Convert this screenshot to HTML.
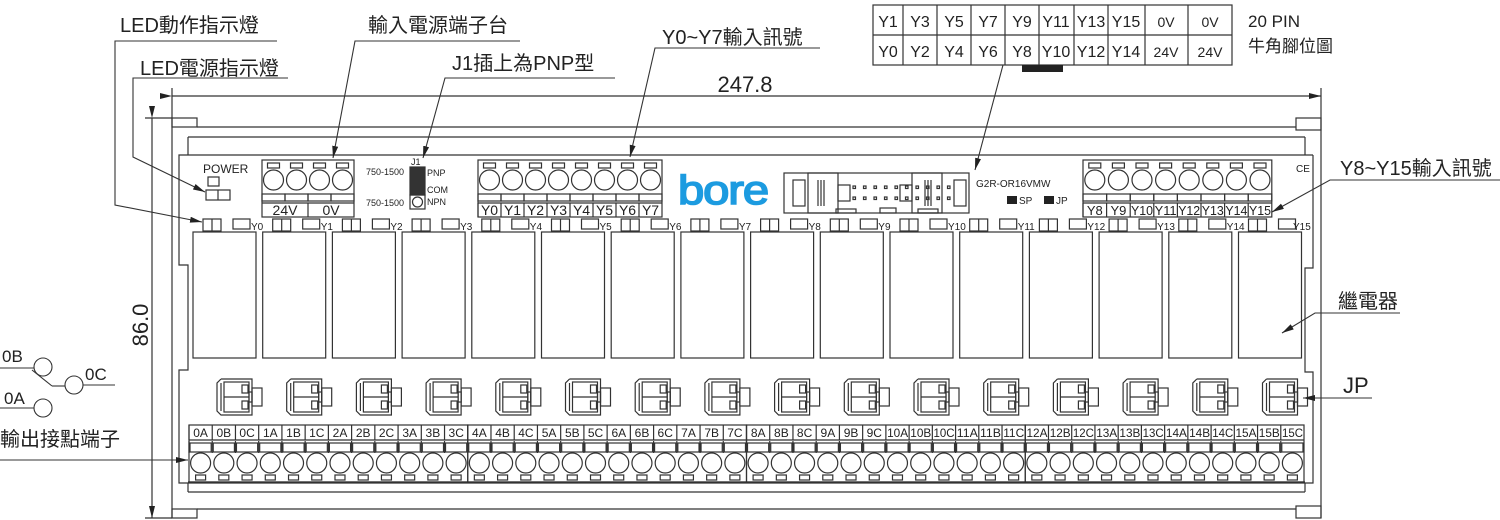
<!DOCTYPE html>
<html><head><meta charset="utf-8"><style>
html,body{margin:0;padding:0;background:#fff;}
svg{display:block;font-family:"Liberation Sans","Noto Sans CJK TC",sans-serif;}
</style></head><body>
<svg id="s" width="1500" height="520" viewBox="0 0 1500 520" xmlns="http://www.w3.org/2000/svg">
<defs>
<marker id="ar" viewBox="0 0 12 6" refX="12" refY="3" markerWidth="12" markerHeight="6" orient="auto" markerUnits="userSpaceOnUse"><path d="M0,0 L12,3 L0,6 z" fill="#222"/></marker>
</defs>
<g id="shapes" fill="none" stroke="#333" stroke-width="1.2"></g>

<!-- dimensions -->
<g stroke="#333" stroke-width="1.2" fill="none">
<line x1="172" y1="88" x2="172" y2="118"/><line x1="1321" y1="88" x2="1321" y2="118"/>
<line x1="172" y1="96" x2="1321" y2="96" marker-start="url(#ar)" marker-end="url(#ar)"/>
<line x1="145" y1="118" x2="172" y2="118"/><line x1="145" y1="518" x2="172" y2="518"/>
<line x1="152" y1="118" x2="152" y2="518" marker-start="url(#ar)" marker-end="url(#ar)"/>
</g>
<text x="745" y="92" font-size="22" fill="#222" text-anchor="middle">247.8</text>
<text transform="translate(148,325) rotate(-90)" font-size="22" fill="#222" text-anchor="middle">86.0</text>

<!-- callouts -->
<g stroke="#333" stroke-width="1.1" fill="none">
<polyline points="277,41 115,41 115,205 202,222" marker-end="url(#ar)"/>
<polyline points="288,78 133,78 133,157 205,192" marker-end="url(#ar)"/>
<polyline points="520,41 355,41 333,158" marker-end="url(#ar)"/>
<polyline points="615,78 445,78 423,158" marker-end="url(#ar)"/>
<polyline points="820,48 655,48 630,157" marker-end="url(#ar)"/>
<polyline points="1003,65 975,170" marker-end="url(#ar)"/>
<polyline points="1500,180 1330,180 1272,212" marker-end="url(#ar)"/>
<polyline points="1400,313 1315,313 1282,333" marker-end="url(#ar)"/>
<polyline points="1372,398 1303,398" marker-end="url(#ar)"/>
<polyline points="0,460 188,460" marker-end="url(#ar)"/>
<line x1="0" y1="368" x2="34" y2="368"/><circle cx="43" cy="367" r="9"/>
<line x1="32" y1="370" x2="52" y2="386"/><line x1="52" y1="386" x2="65" y2="386"/>
<circle cx="74" cy="385" r="9"/><line x1="83" y1="385" x2="115" y2="385"/>
<line x1="0" y1="408" x2="34" y2="408"/><circle cx="43" cy="408" r="9"/>
</g>
<g fill="#222" font-size="20">
<text x="120" y="32">LED動作指示燈</text>
<text x="140" y="75">LED電源指示燈</text>
<text x="368" y="32">輸入電源端子台</text>
<text x="452" y="70">J1插上為PNP型</text>
<text x="662" y="44">Y0~Y7輸入訊號</text>
<text x="1340" y="175">Y8~Y15輸入訊號</text>
<text x="1338" y="308">繼電器</text>
<text x="1343" y="393" font-size="22">JP</text>
<text x="0" y="446">輸出接點端子</text>
<text x="2" y="362" font-size="17">0B</text>
<text x="85" y="380" font-size="17">0C</text>
<text x="4" y="404" font-size="17">0A</text>
<text x="1248" y="27" font-size="17">20 PIN</text>
<text x="1248" y="52" font-size="17">牛角腳位圖</text>
</g>

<!-- top pin table -->
<g stroke="#333" stroke-width="1.2" fill="none">
<rect x="873" y="5" width="359" height="60"/>
<line x1="873" y1="35" x2="1232" y2="35"/>
<line x1="903" y1="5" x2="903" y2="65"/><line x1="937" y1="5" x2="937" y2="65"/><line x1="971" y1="5" x2="971" y2="65"/><line x1="1005" y1="5" x2="1005" y2="65"/><line x1="1039" y1="5" x2="1039" y2="65"/><line x1="1074" y1="5" x2="1074" y2="65"/><line x1="1108" y1="5" x2="1108" y2="65"/><line x1="1145" y1="5" x2="1145" y2="65"/><line x1="1188" y1="5" x2="1188" y2="65"/>
</g>
<rect x="1022" y="65" width="41" height="7" fill="#222"/>
<g fill="#222" font-size="16" text-anchor="middle">
<text x="888" y="27">Y1</text><text x="920" y="27">Y3</text><text x="954" y="27">Y5</text><text x="988" y="27">Y7</text><text x="1022" y="27">Y9</text><text x="1056" y="27">Y11</text><text x="1091" y="27">Y13</text><text x="1126" y="27">Y15</text><text x="1166" y="27" font-size="14">0V</text><text x="1210" y="27" font-size="14">0V</text>
<text x="888" y="57">Y0</text><text x="920" y="57">Y2</text><text x="954" y="57">Y4</text><text x="988" y="57">Y6</text><text x="1022" y="57">Y8</text><text x="1056" y="57">Y10</text><text x="1091" y="57">Y12</text><text x="1126" y="57">Y14</text><text x="1166" y="57" font-size="14">24V</text><text x="1210" y="57" font-size="14">24V</text>
</g>

<!-- module texts -->
<g fill="#222">
<text x="203" y="173" font-size="12">POWER</text>
<text x="366" y="175" font-size="9">750-1500</text>
<text x="366" y="206" font-size="9">750-1500</text>
<text x="411" y="165" font-size="9">J1</text>
<text x="427" y="176" font-size="9">PNP</text>
<text x="427" y="193" font-size="9">COM</text>
<text x="427" y="205" font-size="9">NPN</text>
<text x="285" y="215" font-size="14" text-anchor="middle">24V</text>
<text x="331" y="215" font-size="14" text-anchor="middle">0V</text>
<text x="976" y="187" font-size="10">G2R-OR16VMW</text>
<text x="1019" y="204" font-size="10">SP</text>
<text x="1056" y="204" font-size="10">JP</text>
<text x="1296" y="172" font-size="10">CE</text>
<text x="678" y="204" font-size="41" fill="#1c9be0" stroke="#1c9be0" stroke-width="1.6" letter-spacing="-1" textLength="90" lengthAdjust="spacingAndGlyphs">bore</text>
</g>
<rect x="1007" y="196" width="10" height="8" fill="#222"/>
<rect x="1044" y="196" width="10" height="8" fill="#222"/>
<g fill="#222" font-size="14" text-anchor="middle">
<text x="489.5" y="215">Y0</text><text x="512.5" y="215">Y1</text><text x="535.5" y="215">Y2</text><text x="558.5" y="215">Y3</text><text x="581.5" y="215">Y4</text><text x="604.5" y="215">Y5</text><text x="627.5" y="215">Y6</text><text x="650.5" y="215">Y7</text>
</g>
<g fill="#222" font-size="13" text-anchor="middle">
<text x="1094.8" y="215">Y8</text><text x="1118.4" y="215">Y9</text><text x="1142" y="215" textLength="22" lengthAdjust="spacingAndGlyphs">Y10</text><text x="1165.6" y="215" textLength="22" lengthAdjust="spacingAndGlyphs">Y11</text><text x="1189.2" y="215" textLength="22" lengthAdjust="spacingAndGlyphs">Y12</text><text x="1212.8" y="215" textLength="22" lengthAdjust="spacingAndGlyphs">Y13</text><text x="1236.4" y="215" textLength="22" lengthAdjust="spacingAndGlyphs">Y14</text><text x="1260" y="215" textLength="22" lengthAdjust="spacingAndGlyphs">Y15</text>
</g>
<g fill="#222" font-size="10">
<text x="251" y="230">Y0</text><text x="320.7" y="230">Y1</text><text x="390.4" y="230">Y2</text><text x="460.1" y="230">Y3</text><text x="529.8" y="230">Y4</text><text x="599.5" y="230">Y5</text><text x="669.2" y="230">Y6</text><text x="738.9" y="230">Y7</text><text x="808.6" y="230">Y8</text><text x="878.3" y="230">Y9</text><text x="948" y="230">Y10</text><text x="1017.7" y="230">Y11</text><text x="1087.4" y="230">Y12</text><text x="1157.1" y="230">Y13</text><text x="1226.8" y="230">Y14</text><text x="1293" y="230">Y15</text>
</g>
<g fill="#222" font-size="12" text-anchor="middle">
<text x="200.6" y="437">0A</text><text x="223.8" y="437">0B</text><text x="247.1" y="437">0C</text><text x="270.3" y="437">1A</text><text x="293.5" y="437">1B</text><text x="316.8" y="437">1C</text><text x="340" y="437">2A</text><text x="363.2" y="437">2B</text><text x="386.5" y="437">2C</text><text x="409.7" y="437">3A</text><text x="432.9" y="437">3B</text><text x="456.2" y="437">3C</text>
<text x="479.4" y="437">4A</text><text x="502.6" y="437">4B</text><text x="525.9" y="437">4C</text><text x="549.1" y="437">5A</text><text x="572.3" y="437">5B</text><text x="595.5" y="437">5C</text><text x="618.8" y="437">6A</text><text x="642" y="437">6B</text><text x="665.2" y="437">6C</text><text x="688.5" y="437">7A</text><text x="711.7" y="437">7B</text><text x="734.9" y="437">7C</text>
<text x="758.2" y="437">8A</text><text x="781.4" y="437">8B</text><text x="804.6" y="437">8C</text><text x="827.9" y="437">9A</text><text x="851.1" y="437">9B</text><text x="874.3" y="437">9C</text><text x="897.6" y="437" textLength="21" lengthAdjust="spacingAndGlyphs">10A</text><text x="920.8" y="437" textLength="21" lengthAdjust="spacingAndGlyphs">10B</text><text x="944" y="437" textLength="21" lengthAdjust="spacingAndGlyphs">10C</text><text x="967.3" y="437" textLength="21" lengthAdjust="spacingAndGlyphs">11A</text><text x="990.5" y="437" textLength="21" lengthAdjust="spacingAndGlyphs">11B</text><text x="1013.7" y="437" textLength="21" lengthAdjust="spacingAndGlyphs">11C</text>
<text x="1037" y="437" textLength="21" lengthAdjust="spacingAndGlyphs">12A</text><text x="1060.2" y="437" textLength="21" lengthAdjust="spacingAndGlyphs">12B</text><text x="1083.4" y="437" textLength="21" lengthAdjust="spacingAndGlyphs">12C</text><text x="1106.7" y="437" textLength="21" lengthAdjust="spacingAndGlyphs">13A</text><text x="1129.9" y="437" textLength="21" lengthAdjust="spacingAndGlyphs">13B</text><text x="1153.1" y="437" textLength="21" lengthAdjust="spacingAndGlyphs">13C</text><text x="1176.4" y="437" textLength="21" lengthAdjust="spacingAndGlyphs">14A</text><text x="1199.6" y="437" textLength="21" lengthAdjust="spacingAndGlyphs">14B</text><text x="1222.8" y="437" textLength="21" lengthAdjust="spacingAndGlyphs">14C</text><text x="1246" y="437" textLength="21" lengthAdjust="spacingAndGlyphs">15A</text><text x="1269.3" y="437" textLength="21" lengthAdjust="spacingAndGlyphs">15B</text><text x="1292.5" y="437" textLength="21" lengthAdjust="spacingAndGlyphs">15C</text>
</g>
</svg>
<script>
(function(){
var g=document.getElementById('shapes'),NS='http://www.w3.org/2000/svg';
function el(t,a){var e=document.createElementNS(NS,t);for(var k in a)e.setAttribute(k,a[k]);g.appendChild(e);return e;}
function R(x,y,w,h,f){el('rect',{x:x,y:y,width:w,height:h,fill:f||'none'});}
function L(a,b,c,d){el('line',{x1:a,y1:b,x2:c,y2:d});}
function C(x,y,r){el('circle',{cx:x,cy:y,r:r});}
function P(p){el('polyline',{points:p});}
// frame
L(172,118,172,518);L(1321,118,1321,518);
R(172,118,25,9);R(1296,118,25,12);R(172,509,25,9);R(1296,506,25,12);
L(197,127,1296,127);L(188,137,1305,137);L(188,137,188,155);L(1305,137,1305,155);
L(197,509,1296,509);L(188,492,1305,492);L(188,483,188,492);L(1305,483,1305,492);
P('1313,155 179,155 179,265 188,265 188,370 179,370 179,483 1313,483 1313,372 1305,372 1305,268 1313,268 1313,155');
// power leds
R(208,177,11,9);R(206,190,24,10);L(218,190,218,200);
// 24V block
R(262,160,92,57);for(var i=0;i<4;i++){var cx=273.5+i*23;C(cx,180,10);R(cx-6,163,12,5);R(cx-11.5,194,23,7);}
L(262,203,354,203);L(308,203,308,217);
// J1
R(410,167,15,28,'#333');R(410,195,15,14);C(417.5,202,5);
// input blocks
function blk(x0,w,n){R(x0,160,w*n,57);for(var i=0;i<n;i++){var cx=x0+w*(i+.5);C(cx,180,10);R(cx-6,163,12,5);R(cx-w/2,194,w,7);L(x0+w*i,203,x0+w*i,217);}L(x0,203,x0+w*n,203);}
blk(478,23,8);blk(1083,23.6,8);
// IDC
R(784,173,185,40);R(793,180,12,26);R(954,180,12,26);
R(808,173,30,40);R(912,173,30,40);
for(var k=0;k<3;k++){L(818+k*3,180,818+k*3,206);L(925+k*3,180,925+k*3,206);}
R(838,185,12,16);R(900,185,12,16);
for(var i=0;i<10;i++){R(853+i*10.5,186,2.5,2.5);R(853+i*10.5,197,2.5,2.5);}
R(836,209,20,4);R(880,208,16,5);R(918,209,20,4);
// channels
for(var i=0;i<16;i++){var x=193+i*69.7;
 R(x+10,219,18,12);L(x+19,219,x+19,231);R(x+40,219,17,10);
 R(x,232,63,126);
 var a=x+24,b=x+59;
 P((a+4)+',379 '+b+',379 '+b+',415 '+(a+4)+',415 '+a+',411 '+a+',383 '+(a+4)+',379');
 R(a+7,382,25,30);L(a+7,397,a+32,397);R(a+25,385,6,8);R(a+25,401,6,8);R(b,388,10,18);R(b-3,392,3,10);L(a+4,383,a+4,411);
}
// output blocks
for(var b=0;b<4;b++){var x0=189+b*278.75;R(x0,425,278.75,57);
 for(var i=0;i<12;i++){var x=x0+i*23.23,cx=x+11.6;L(x,425,x,440);R(x+1,443,21.2,9);L(x,441,x,453);C(cx,463,10);R(cx-5,475,10,5);}
 L(x0,440,x0+278.75,440);}
L(188,482,1305,482);
})();
</script>
</body></html>
